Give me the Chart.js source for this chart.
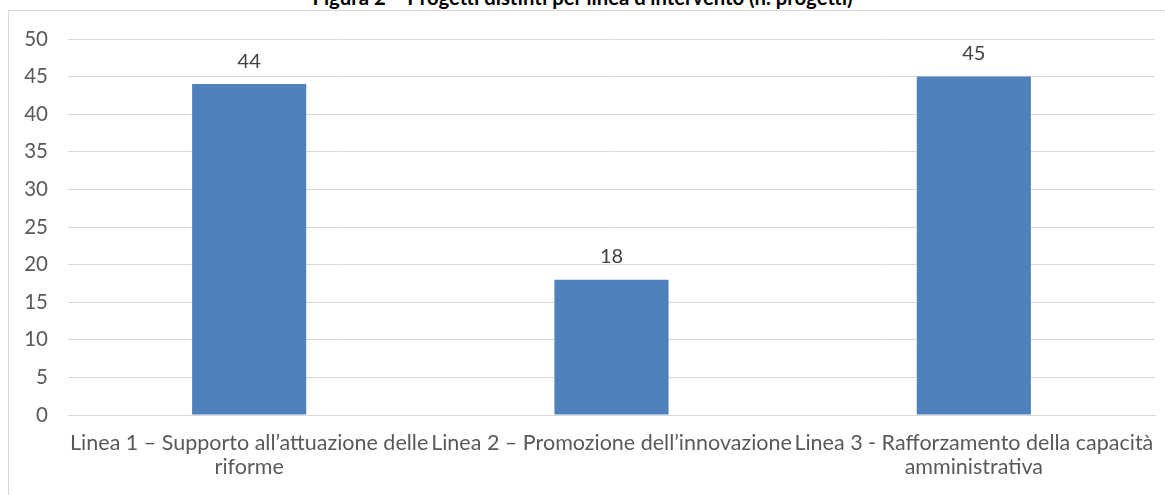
<!DOCTYPE html>
<html>
<head>
<meta charset="utf-8">
<script src="https://cdn.jsdelivr.net/npm/chart.js@4"></script>
<style>
  body { margin: 0; width: 1165px; height: 495px; overflow: hidden; background: #fff; position: relative; font-family: Lato, sans-serif; }
  #title { position: absolute; left: 0; width: 1165px; top: -15px; text-align: center; font-weight: bold; font-size: 20.3px; color: #000; white-space: nowrap; }
  #box { position: absolute; left: 8px; top: 10px; width: 1170px; height: 500px; border: 1px solid #d9d9d9; background: #fff; }
  #wrap { position: absolute; left: 1px; top: 1px; width: 1156px; height: 484px; }
</style>
</head>
<body>
<div id="box"><div id="wrap"><canvas id="projectsChart"></canvas></div></div>
<div id="title">Figura 2 – Progetti distinti per linea d’intervento (n. progetti)</div>
<script>
const categories = [
    ['Linea 1 – Supporto all’attuazione delle', 'riforme'],
    'Linea 2 – Promozione dell’innovazione',
    ['Linea 3 - Rafforzamento della capacità', 'amministrativa']
];
const projects = [44, 18, 45];
const yTicks = [0, 5, 10, 15, 20, 25, 30, 35, 40, 45, 50];

// writes each bar's value above it
const valueLabels = {
    id: 'valueLabels',
    afterDatasetsDraw(chart) {
        const ctx = chart.ctx;
        ctx.save();
        ctx.font = '20px Lato';
        ctx.fillStyle = '#404040';
        ctx.textAlign = 'center';
        ctx.textBaseline = 'middle';
        chart.getDatasetMeta(0).data.forEach((bar, i) => {
            ctx.fillText(projects[i], bar.x, bar.y - 23);
        });
        ctx.restore();
    }
};

const ctx = document.getElementById('projectsChart').getContext('2d');
const projectsChart = new Chart(ctx, {
    type: 'bar',
    data: {
        labels: categories,
        datasets: [{
            label: 'Progetti',
            data: projects,
            backgroundColor: '#4f81bd',
            barPercentage: 0.63,
            categoryPercentage: 0.5,
        }]
    },
    options: {
        responsive: true,
        maintainAspectRatio: false,
        animation: false,
        layout: { padding: { top: 27, right: 11, left: 0, bottom: 0 } },
        plugins: {
            legend: { display: false },
            tooltip: { enabled: false }
        },
        scales: {
            y: {
                min: 0,
                max: 50,
                afterBuildTicks: axis => { axis.ticks = yTicks.map(v => ({ value: v })); },
                afterFit: axis => {
                    axis.width = 58;
                    axis.paddingTop = 0;
                    axis.paddingBottom = 0;
                },
                border: { display: false },
                grid: { color: '#d9d9d9', drawTicks: false },
                ticks: { padding: 20, color: '#595959', font: { family: 'Lato', size: 20.5 } }
            },
            x: {
                afterFit: axis => {
                    axis.height = 81;
                    axis.paddingLeft = 0;
                    axis.paddingRight = 0;
                },
                border: { color: '#d9d9d9' },
                grid: { display: false },
                ticks: { padding: 8, color: '#595959', maxRotation: 0, autoSkip: false, font: { family: 'Lato', size: 21.5, lineHeight: 1.12 } }
            }
        }
    },
    plugins: [valueLabels]
});
</script>
</body>
</html>
